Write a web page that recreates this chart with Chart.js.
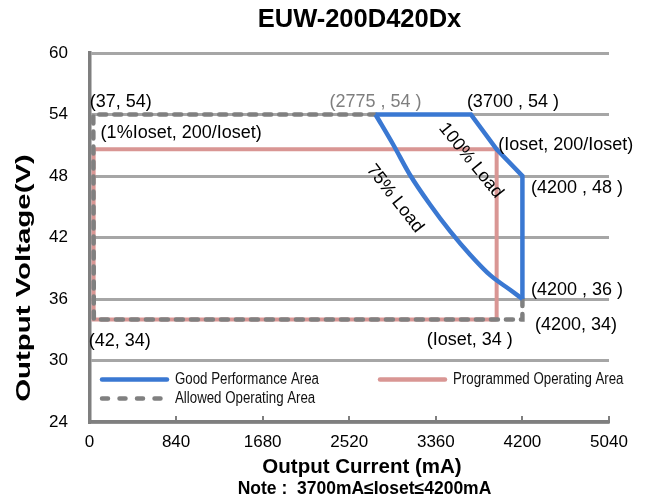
<!DOCTYPE html>
<html>
<head>
<meta charset="utf-8">
<script src="https://cdn.jsdelivr.net/npm/chart.js@4.4.1/dist/chart.umd.min.js"></script>
<style>
  html, body { margin: 0; padding: 0; background: #ffffff; }
  #wrap { width: 645px; height: 501px; position: relative; }
</style>
</head>
<body>
<div id="wrap"><canvas id="chart" width="645" height="501"></canvas></div>
<script>
// ---- axis ticks ----
const xTickValues = [0, 840, 1680, 2520, 3360, 4200, 5040];
const yTickValues = [24, 30, 36, 42, 48, 54, 60];

// ---- series (current in mA, voltage in V) ----
const goodX = [2775, 3700, 3950, 4200, 4200];
const goodY = [54, 54, 50.6, 48, 36];
const load75X = [2775, 2950, 3110, 3305, 3500, 3695, 3890, 4080, 4200];
const load75Y = [54, 51, 48.1, 45.2, 42.6, 40.3, 38.3, 36.9, 36];
const progX = [3950, 3950, 40, 40, 3950];
const progY = [34, 50.6, 50.6, 34, 34];
const allowedX = [4200, 4200, 42, 37, 2775];
const allowedY = [36, 34, 34, 54, 54];
const seriesNames = ['Good Performance Area', 'Programmed Operating Area', 'Allowed Operating Area'];

// ---- point annotations ----
const pointLabelText = ['(37, 54)', '(2775 , 54 )', '(3700 , 54 )', '(Ioset, 200/Ioset)', '(4200 , 48 )',
                        '(4200 , 36 )', '(4200, 34)', '(Ioset, 34 )', '(42, 34)', '(1%Ioset, 200/Ioset)'];
const pointLabelX = [37, 2775, 3700, 3950, 4200, 4200, 4200, 3950, 42, 40];
const pointLabelY = [54, 54, 54, 50.6, 48, 36, 34, 34, 34, 50.6];

// ---- load curve captions ----
const curveLabelText = ['100% Load', '75% Load'];
const curveLabelX = [3700, 2963];
const curveLabelY = [49.5, 45.8];

const toPts = (xs, ys) => xs.map((v, i) => ({ x: v, y: ys[i] }));

const FONT = "'Liberation Sans', Arial, Helvetica, sans-serif";
const BLUE = '#3a78d2';
const PINK = '#d99694';
const GRAY = '#808080';

// label placement relative to its anchor point: [dx, dy, colour]
const pointLabelStyle = [
  [-3.5, -12.5, '#000'], [-46, -12, '#7f7f7f'], [-4, -12.5, '#000'], [1.5, -4.5, '#000'], [8.5, 12, '#000'],
  [8.5, -9, '#000'], [12.5, 5.5, '#000'], [-70, 20.5, '#000'], [-5, 21.5, '#000'], [7, -16, '#000']
];

const overlay = {
  id: 'overlay',
  afterDatasetsDraw(chart) {
    const { ctx } = chart;
    const xs = chart.scales.x, ys = chart.scales.y;
    ctx.save();

    // small inner tick marks on the current axis
    ctx.strokeStyle = '#7f7f7f';
    ctx.lineWidth = 2;
    xTickValues.slice(1).forEach(v => {
      const px = Math.round(xs.getPixelForValue(v));
      ctx.beginPath();
      ctx.moveTo(px, ys.bottom);
      ctx.lineTo(px, ys.bottom - 6);
      ctx.stroke();
    });

    // coordinate annotations
    ctx.font = '18px ' + FONT;
    ctx.textBaseline = 'middle';
    ctx.textAlign = 'left';
    pointLabelText.forEach((t, i) => {
      const [dx, dy, col] = pointLabelStyle[i];
      ctx.fillStyle = col;
      ctx.fillText(t, xs.getPixelForValue(pointLabelX[i]) + dx, ys.getPixelForValue(pointLabelY[i]) + dy);
    });

    // rotated load captions
    ctx.fillStyle = '#000';
    ctx.textAlign = 'center';
    const angles = [51, 52];
    curveLabelText.forEach((t, i) => {
      ctx.save();
      ctx.translate(xs.getPixelForValue(curveLabelX[i]), ys.getPixelForValue(curveLabelY[i]));
      ctx.rotate(angles[i] * Math.PI / 180);
      ctx.fillText(t, 0, 0);
      ctx.restore();
    });

    // legend inside the plot
    const items = [
      { name: seriesNames[0], color: BLUE, dash: [], x: 100, y: 379.5 },
      { name: seriesNames[1], color: PINK, dash: [], x: 378, y: 379.5 },
      { name: seriesNames[2], color: GRAY, dash: [6, 11.5], x: 100, y: 398.5 }
    ];
    items.forEach(it => {
      ctx.save();
      ctx.strokeStyle = it.color;
      ctx.lineWidth = 4.5;
      ctx.lineCap = 'round';
      ctx.setLineDash(it.dash);
      ctx.beginPath();
      ctx.moveTo(it.x + 2, it.y);
      ctx.lineTo(it.x + 67, it.y);
      ctx.stroke();
      ctx.restore();
      ctx.save();
      ctx.translate(it.x + 75, it.y);
      ctx.scale(0.83, 1);
      ctx.font = '16px ' + FONT;
      ctx.fillStyle = '#111';
      ctx.textAlign = 'left';
      ctx.textBaseline = 'middle';
      ctx.fillText(it.name, 0, 0);
      ctx.restore();
    });

    // titles
    ctx.fillStyle = '#000';
    ctx.textAlign = 'center';
    ctx.textBaseline = 'middle';
    ctx.font = 'bold 25.5px ' + FONT;
    ctx.fillText('EUW-200D420Dx', 359.5, 20);
    ctx.font = 'bold 20.5px ' + FONT;
    ctx.fillText('Output Current (mA)', 362, 467);
    ctx.font = 'bold 17.5px ' + FONT;
    ctx.fillText('Note :  3700mA\u2264Ioset\u22644200mA', 364.5, 489);

    ctx.save();
    ctx.translate(24, 278);
    ctx.rotate(-Math.PI / 2);
    ctx.scale(1.47, 1);
    ctx.font = 'bold 20px ' + FONT;
    ctx.fillText('Output Voltage(V)', 0, 0);
    ctx.restore();

    ctx.restore();
  }
};

new Chart(document.getElementById('chart'), {
  type: 'scatter',
  data: {
    datasets: [
      { label: seriesNames[0], data: toPts(goodX, goodY), showLine: true, borderColor: BLUE, borderWidth: 4.5,
        pointRadius: 0, tension: 0, order: 1, borderJoinStyle: 'miter' },
      { label: seriesNames[0], data: toPts(load75X, load75Y), showLine: true, borderColor: BLUE, borderWidth: 4.5,
        pointRadius: 0, cubicInterpolationMode: 'monotone', order: 1 },
      { label: seriesNames[2], data: toPts(allowedX, allowedY), showLine: true, borderColor: GRAY, borderWidth: 4.5,
        borderDash: [7, 8], borderCapStyle: 'round', pointRadius: 0, tension: 0, order: 2 },
      { label: seriesNames[1], data: toPts(progX, progY), showLine: true, borderColor: PINK, borderWidth: 4,
        pointRadius: 0, tension: 0, order: 3 }
    ]
  },
  options: {
    responsive: false,
    devicePixelRatio: 1,
    animation: false,
    layout: { padding: { left: 0, top: 53, right: 36, bottom: 0 } },
    plugins: { legend: { display: false }, tooltip: { enabled: false }, title: { display: false } },
    scales: {
      x: {
        type: 'linear', min: 0, max: 5040,
        afterFit(s) { s.height = 79; },
        afterBuildTicks(s) { s.ticks = xTickValues.map(v => ({ value: v })); },
        ticks: { color: '#000', font: { family: FONT, size: 17 }, padding: 10, maxRotation: 0, autoSkip: false,
                 callback: v => String(v) },
        grid: { display: true, drawOnChartArea: false, drawTicks: false },
        border: { display: true, color: '#7f7f7f', width: 3.5 }
      },
      y: {
        type: 'linear', min: 24, max: 60,
        afterFit(s) { s.width = 89.5; },
        afterBuildTicks(s) { s.ticks = yTickValues.map(v => ({ value: v })); },
        ticks: { color: '#000', font: { family: FONT, size: 17 }, padding: 21.5, autoSkip: false,
                 callback: v => String(v) },
        grid: { color: '#a6a6a6', lineWidth: 3, drawTicks: false },
        border: { display: true, color: '#7f7f7f', width: 3.5 }
      }
    }
  },
  plugins: [overlay]
});
</script>
</body>
</html>
